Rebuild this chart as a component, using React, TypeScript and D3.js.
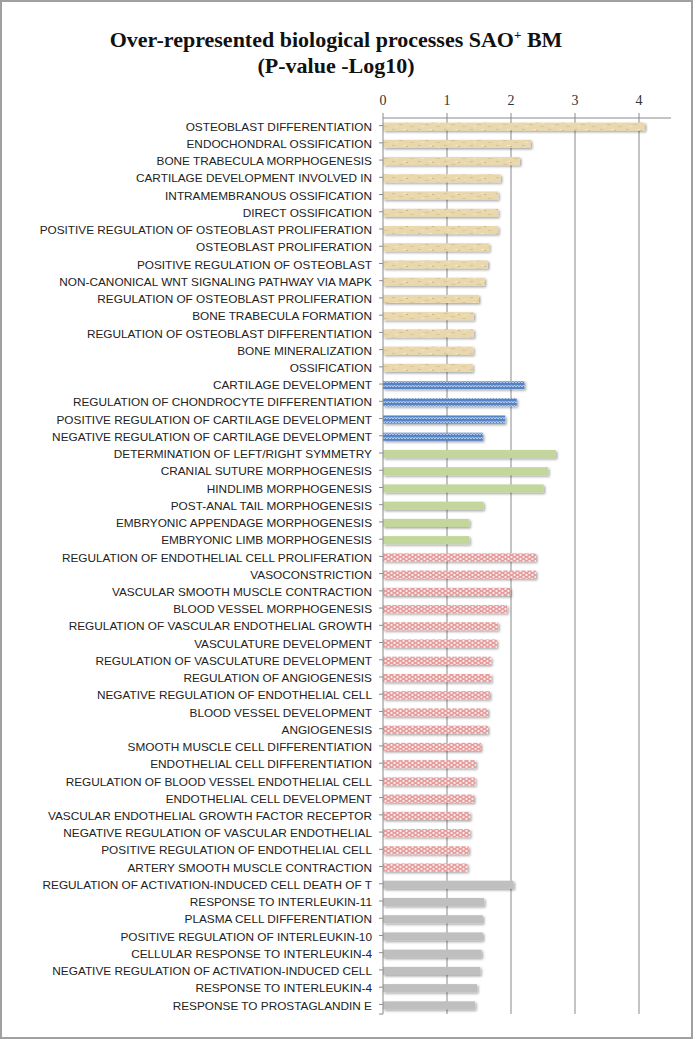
import React from "react";
import * as d3 from "d3";

const tanLabels = [
  "OSTEOBLAST DIFFERENTIATION",
  "ENDOCHONDRAL OSSIFICATION",
  "BONE TRABECULA MORPHOGENESIS",
  "CARTILAGE DEVELOPMENT INVOLVED IN",
  "INTRAMEMBRANOUS OSSIFICATION",
  "DIRECT OSSIFICATION",
  "POSITIVE REGULATION OF OSTEOBLAST PROLIFERATION",
  "OSTEOBLAST PROLIFERATION",
  "POSITIVE REGULATION OF OSTEOBLAST",
  "NON-CANONICAL WNT SIGNALING PATHWAY VIA MAPK",
  "REGULATION OF OSTEOBLAST PROLIFERATION",
  "BONE TRABECULA FORMATION",
  "REGULATION OF OSTEOBLAST DIFFERENTIATION",
  "BONE MINERALIZATION",
  "OSSIFICATION",
];
const tanValues = [4.09, 2.31, 2.14, 1.84, 1.8, 1.8, 1.8, 1.66, 1.64, 1.59, 1.5, 1.42, 1.42, 1.41, 1.4];

const blueLabels = [
  "CARTILAGE DEVELOPMENT",
  "REGULATION OF CHONDROCYTE DIFFERENTIATION",
  "POSITIVE REGULATION OF CARTILAGE DEVELOPMENT",
  "NEGATIVE REGULATION OF CARTILAGE DEVELOPMENT",
];
const blueValues = [2.21, 2.09, 1.91, 1.56];

const greenLabels = [
  "DETERMINATION OF LEFT/RIGHT SYMMETRY",
  "CRANIAL SUTURE MORPHOGENESIS",
  "HINDLIMB MORPHOGENESIS",
  "POST-ANAL TAIL MORPHOGENESIS",
  "EMBRYONIC APPENDAGE MORPHOGENESIS",
  "EMBRYONIC LIMB MORPHOGENESIS",
];
const greenValues = [2.7, 2.58, 2.51, 1.57, 1.35, 1.35];

const pinkLabels = [
  "REGULATION OF ENDOTHELIAL CELL PROLIFERATION",
  "VASOCONSTRICTION",
  "VASCULAR SMOOTH MUSCLE CONTRACTION",
  "BLOOD VESSEL MORPHOGENESIS",
  "REGULATION OF VASCULAR ENDOTHELIAL GROWTH",
  "VASCULATURE DEVELOPMENT",
  "REGULATION OF VASCULATURE DEVELOPMENT",
  "REGULATION OF ANGIOGENESIS",
  "NEGATIVE REGULATION OF ENDOTHELIAL CELL",
  "BLOOD VESSEL DEVELOPMENT",
  "ANGIOGENESIS",
  "SMOOTH MUSCLE CELL DIFFERENTIATION",
  "ENDOTHELIAL CELL DIFFERENTIATION",
  "REGULATION OF BLOOD VESSEL ENDOTHELIAL CELL",
  "ENDOTHELIAL CELL DEVELOPMENT",
  "VASCULAR ENDOTHELIAL GROWTH FACTOR RECEPTOR",
  "NEGATIVE REGULATION OF VASCULAR ENDOTHELIAL",
  "POSITIVE REGULATION OF ENDOTHELIAL CELL",
  "ARTERY SMOOTH MUSCLE CONTRACTION",
];
const pinkValues = [2.39, 2.39, 1.99, 1.94, 1.8, 1.78, 1.69, 1.69, 1.67, 1.64, 1.64, 1.53, 1.45, 1.44, 1.42, 1.36, 1.36, 1.34, 1.32];

const grayLabels = [
  "REGULATION OF ACTIVATION-INDUCED CELL DEATH OF T",
  "RESPONSE TO INTERLEUKIN-11",
  "PLASMA CELL DIFFERENTIATION",
  "POSITIVE REGULATION OF INTERLEUKIN-10",
  "CELLULAR RESPONSE TO INTERLEUKIN-4",
  "NEGATIVE REGULATION OF ACTIVATION-INDUCED CELL",
  "RESPONSE TO INTERLEUKIN-4",
  "RESPONSE TO PROSTAGLANDIN E",
];
const grayValues = [2.04, 1.58, 1.56, 1.56, 1.54, 1.52, 1.47, 1.44];

const xTicks = [0, 1, 2, 3, 4];

const groups = [
  { labels: tanLabels, values: tanValues, fill: "url(#tan)" },
  { labels: blueLabels, values: blueValues, fill: "url(#blue)" },
  { labels: greenLabels, values: greenValues, fill: "#c3d69b" },
  { labels: pinkLabels, values: pinkValues, fill: "url(#pink)" },
  { labels: grayLabels, values: grayValues, fill: "#bfbfbf" },
];

const rows = groups.flatMap((g) =>
  g.labels.map((l, i) => ({ label: l, value: g.values[i], fill: g.fill }))
);

export default function App() {
  const W = 693;
  const H = 1039;
  const top = 118;
  const bottom = 1014;
  const x = d3.scaleLinear().domain([0, 4.5]).range([383, 671]);
  const y = d3
    .scaleBand<string>()
    .domain(rows.map((r) => r.label))
    .range([top, bottom])
    .paddingInner(0.53)
    .paddingOuter(0.265);
  const bw = y.bandwidth();

  return (
    <svg
      width={W}
      height={H}
      style={{ position: "absolute", left: 0, top: 0, background: "#fff" }}
    >
      <defs>
        <pattern id="tan" width="26" height="8" patternUnits="userSpaceOnUse">
          <rect width="26" height="8" fill="#e9d8ae" />
          <rect x="2" y="1" width="3" height="1" fill="#d6c08e" />
          <rect x="9" y="4" width="4" height="1" fill="#d9c493" />
          <rect x="16" y="2" width="2" height="1" fill="#cfb885" />
          <rect x="20" y="6" width="4" height="1" fill="#dcc797" />
          <rect x="5" y="6" width="3" height="1" fill="#f2e4c2" />
          <rect x="13" y="1" width="3" height="1" fill="#f3e7c9" />
          <rect x="22" y="3" width="2" height="1" fill="#f0e1bc" />
        </pattern>
        <pattern id="blue" width="6" height="4" patternUnits="userSpaceOnUse">
          <rect width="6" height="4" fill="#5583c4" />
          <path d="M0 3 L1.5 1 L3 3 L4.5 1 L6 3" fill="none" stroke="#bcd0ee" strokeWidth="1" />
        </pattern>
        <pattern id="pink" width="6" height="4" patternUnits="userSpaceOnUse">
          <rect width="6" height="4" fill="#e49c9c" />
          <circle cx="1.5" cy="1" r="1.15" fill="#fdeaea" />
          <circle cx="4.5" cy="3" r="1.15" fill="#fdeaea" />
        </pattern>
        <filter id="shadow" x="-5%" y="-50%" width="110%" height="250%">
          <feDropShadow dx="1.5" dy="1.5" stdDeviation="1" floodColor="#000" floodOpacity="0.35" />
        </filter>
      </defs>
      <rect x={1} y={1} width={W - 2} height={H - 2} fill="#fff" stroke="#a0a0a0" strokeWidth={2} />

      <text
        x={336}
        y={47}
        textAnchor="middle"
        fontFamily="Liberation Serif, serif"
        fontWeight="bold"
        fontSize={22}
        fill="#111"
      >
        Over-represented biological processes SAO
        <tspan fontSize={13} dy={-8}>+</tspan>
        <tspan dy={8}> BM</tspan>
      </text>
      <text
        x={336}
        y={73}
        textAnchor="middle"
        fontFamily="Liberation Serif, serif"
        fontWeight="bold"
        fontSize={22}
        fill="#111"
      >
        (P-value -Log10)
      </text>

      {/* gridlines */}
      {xTicks.filter((t) => t > 0).map((t) => (
        <line key={"g" + t} x1={x(t)} x2={x(t)} y1={top} y2={bottom} stroke="#8a8a8a" strokeWidth={1} />
      ))}
      {/* top axis */}
      <line x1={x(0)} x2={x(4.5)} y1={top} y2={top} stroke="#8a8a8a" strokeWidth={1} />
      {xTicks.map((t) => (
        <g key={"t" + t}>
          <line x1={x(t)} x2={x(t)} y1={top - 5} y2={top} stroke="#8a8a8a" />
          <text
            x={x(t)}
            y={105}
            textAnchor="middle"
            fontFamily="Liberation Serif, serif"
            fontSize={14}
            fill="#333"
          >
            {t}
          </text>
        </g>
      ))}

      {/* bars */}
      {rows.map((r) => (
        <rect
          key={"b" + r.label}
          x={x(0)}
          y={y(r.label)!}
          width={x(r.value) - x(0)}
          height={bw}
          fill={r.fill}
          filter="url(#shadow)"
        />
      ))}

      {/* left axis */}
      <line x1={x(0)} x2={x(0)} y1={top} y2={bottom} stroke="#8a8a8a" strokeWidth={1} />
      {rows.map((r) => {
        const cy = y(r.label)! + bw / 2;
        return (
          <g key={"l" + r.label}>
            <line x1={x(0) - 4} x2={x(0)} y1={cy - 1} y2={cy - 1} stroke="#8a8a8a" />
            <text
              x={372}
              y={cy}
              dy="0.35em"
              textAnchor="end"
              fontFamily="Liberation Sans, Arial, sans-serif"
              fontSize={11.8}
              fill="#222"
            >
              {r.label}
            </text>
          </g>
        );
      })}
      <line x1={x(0) - 4} x2={x(0)} y1={bottom} y2={bottom} stroke="#8a8a8a" />
    </svg>
  );
}
